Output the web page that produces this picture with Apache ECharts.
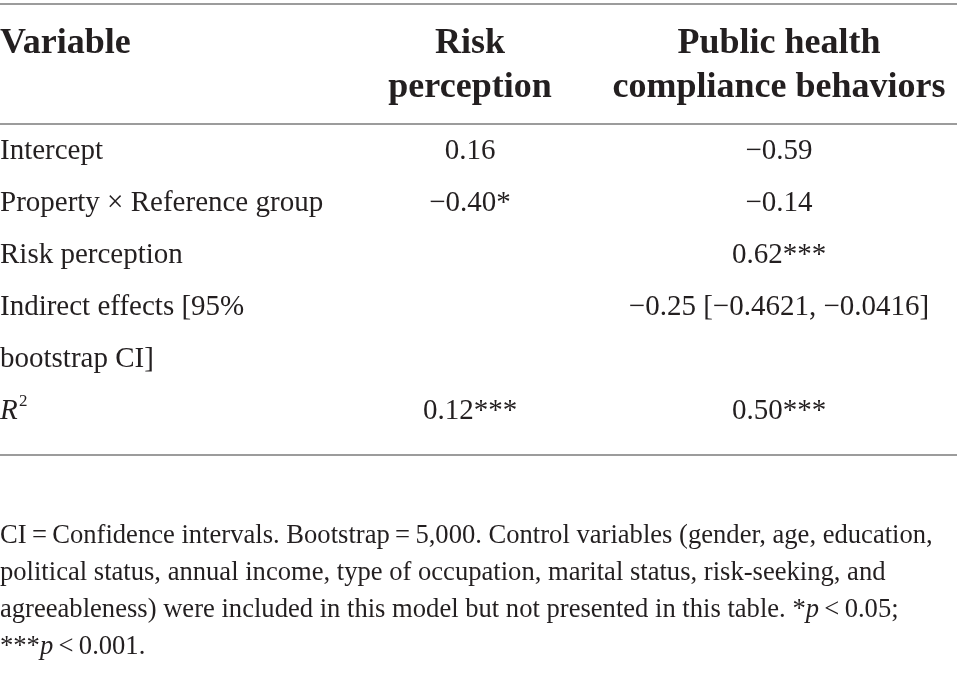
<!DOCTYPE html>
<html>
<head>
<meta charset="utf-8">
<script src="https://cdn.jsdelivr.net/npm/echarts@6/dist/echarts.min.js"></script>
<style>
html, body { margin: 0; padding: 0; background: #fff; }
#main { width: 957px; height: 674px; }
</style>
</head>
<body>
<div id="main"></div>
<script>
// table content
var headers = ['Variable', 'Risk\nperception', 'Public health\ncompliance behaviors'];
var rowLabels = ['Intercept', 'Property × Reference group', 'Risk perception', 'Indirect effects [95%', 'bootstrap CI]', 'R'];
var riskPerception = ['0.16', '−0.40*', '', '', '', '0.12***'];
var complianceBehaviors = ['−0.59', '−0.14', '0.62***', '−0.25 [−0.4621, −0.0416]', '', '0.50***'];
var notes = [
    '{n|CI\u2009=\u2009Confidence intervals. Bootstrap\u2009=\u20095,000. Control variables (gender, age, education,}',
    '{n|political status, annual income, type of occupation, marital status, risk-seeking, and}',
    '{n|agreeableness) were included in this model but not presented in this table. *}{i|p}{n|\u2009<\u20090.05;}',
    '{n|***}{i|p}{n|\u2009<\u20090.001.}'
];

var ink = '#231f20';
var rule = '#9c9c9c';
var serif = '"Liberation Serif", "DejaVu Serif", serif';

var colX = [0, 470, 779];
var headTop = 44, headGap = 44;
var rowTop = 151, rowGap = 52;
var noteTop = 536, noteGap = 37;

function txt(x, y, s, align, extra) {
    var style = {
        x: x, y: y, text: s, fill: ink,
        font: '29px ' + serif,
        align: align, verticalAlign: 'middle'
    };
    for (var k in extra) style[k] = extra[k];
    return { type: 'text', silent: true, style: style };
}

function hline(y) {
    return {
        type: 'line', silent: true,
        shape: { x1: 0, y1: y, x2: 957, y2: y },
        style: { stroke: rule, lineWidth: 2 }
    };
}

var els = [hline(4), hline(124), hline(455)];

headers.forEach(function (h, i) {
    h.split('\n').forEach(function (line, j) {
        els.push(txt(colX[i], headTop + j * headGap, line, i === 0 ? 'left' : 'center',
            { font: 'bold 36px ' + serif }));
    });
});

rowLabels.forEach(function (lab, i) {
    var y = rowTop + i * rowGap;
    if (lab === 'R') {
        els.push(txt(0, y, 'R', 'left', { font: 'italic 29px ' + serif }));
        els.push(txt(19, y - 9, '2', 'left', { font: '17px ' + serif }));
    } else {
        els.push(txt(0, y, lab, 'left'));
    }
    if (riskPerception[i]) els.push(txt(colX[1], y, riskPerception[i], 'center'));
    if (complianceBehaviors[i]) els.push(txt(colX[2], y, complianceBehaviors[i], 'center'));
});

notes.forEach(function (line, i) {
    els.push({
        type: 'text', silent: true,
        style: {
            x: 0, y: noteTop + i * noteGap, text: line,
            align: 'left', verticalAlign: 'middle',
            rich: {
                n: { fontFamily: serif, fontSize: 26.6, fill: ink },
                i: { fontFamily: serif, fontSize: 26.6, fontStyle: 'italic', fill: ink }
            }
        }
    });
});

var myChart = echarts.init(document.getElementById('main'), null, { renderer: 'canvas' });
var option = {
    backgroundColor: '#fff',
    animation: false,
    graphic: { elements: els }
};
myChart.setOption(option);
window.addEventListener('resize', myChart.resize);
</script>
</body>
</html>
